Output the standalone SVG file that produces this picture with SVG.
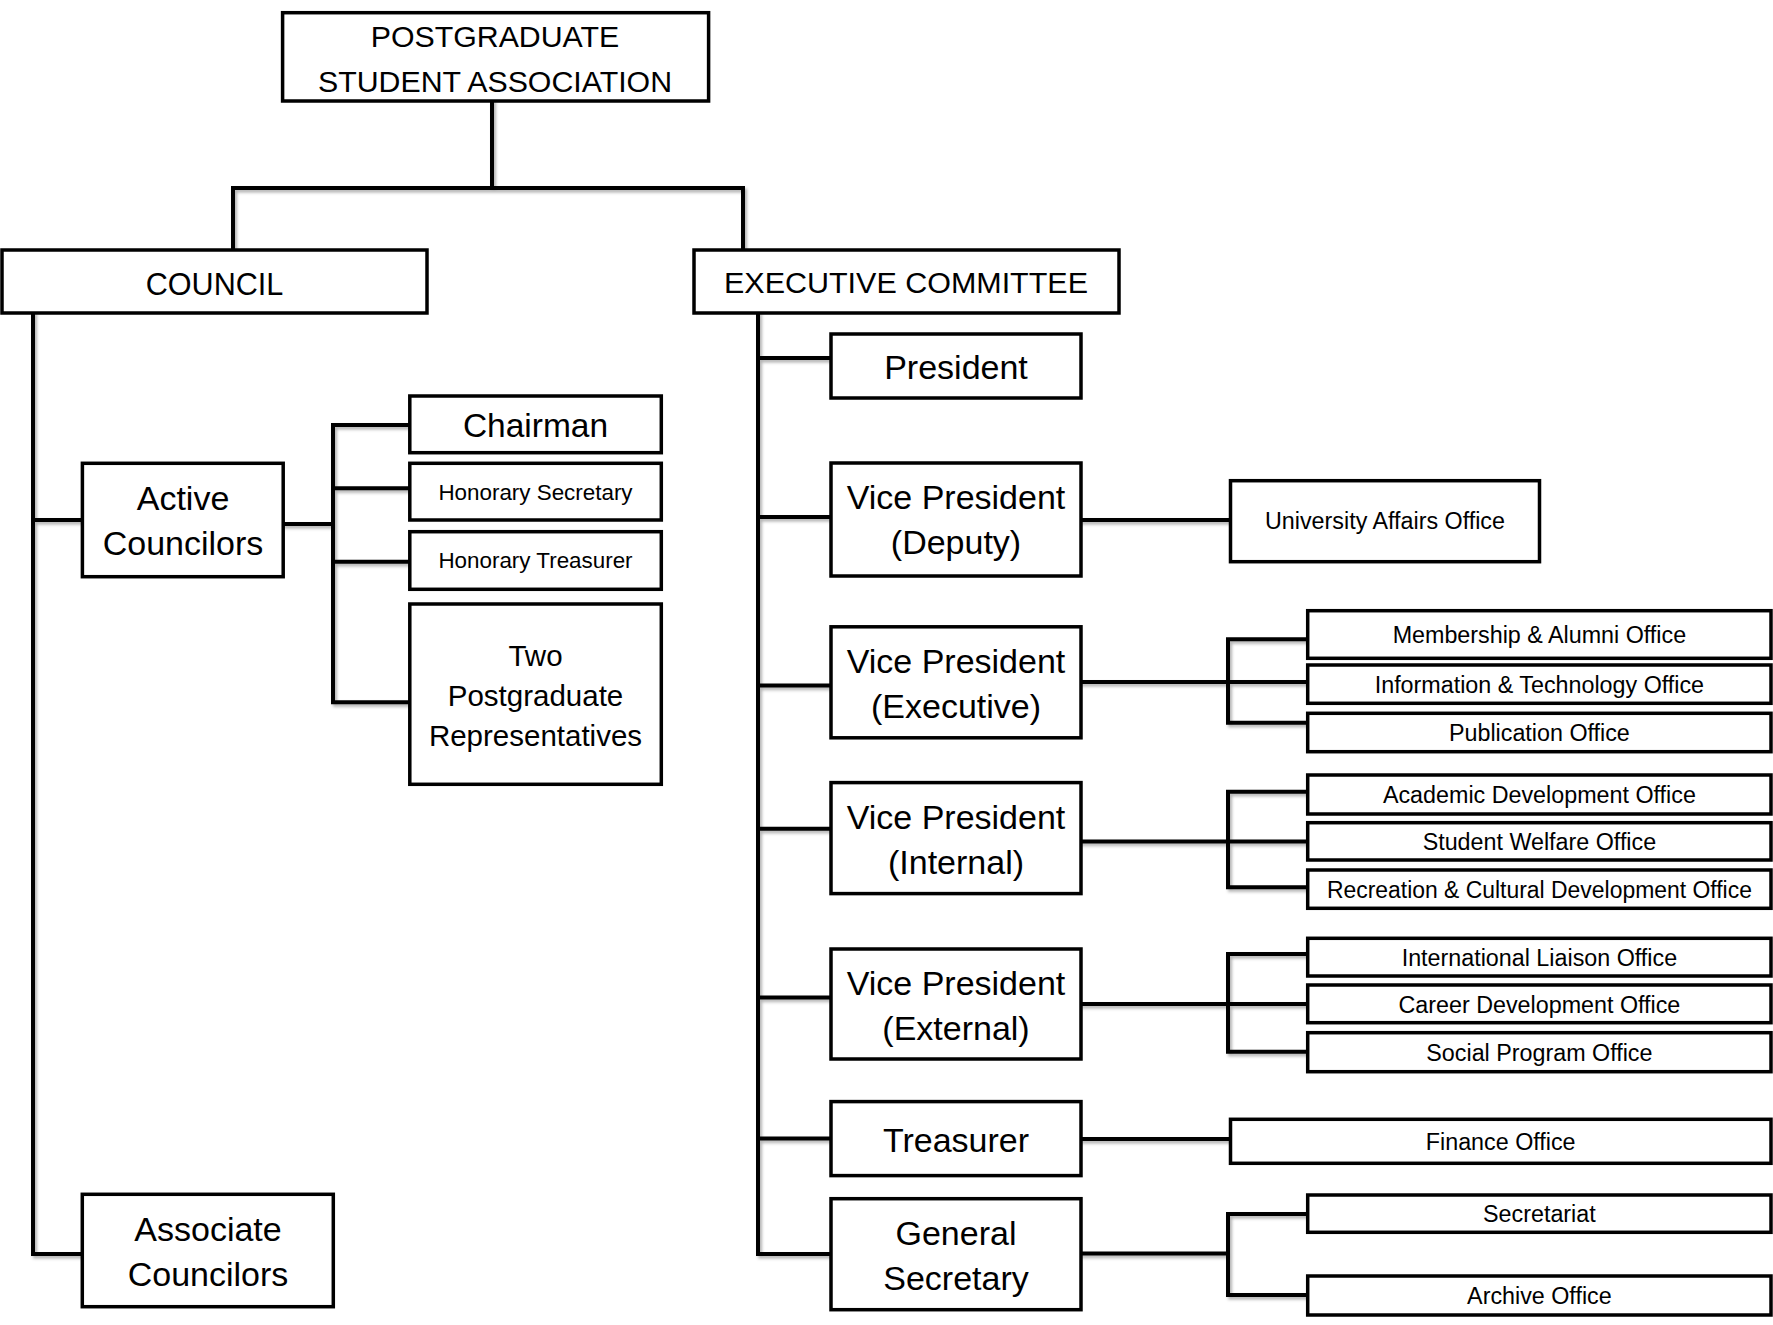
<svg xmlns="http://www.w3.org/2000/svg" width="1773" height="1325" viewBox="0 0 1773 1325">
<style>
.box{fill:#fff;stroke:#000;stroke-width:3.5}
.ln{fill:none;stroke:#000;stroke-width:4;stroke-linejoin:miter;stroke-linecap:square}
text{font-family:"Liberation Sans",Arial,sans-serif;fill:#000;text-anchor:middle}
.h30{font-size:30.3px}
.b34{font-size:34px}
.m29{font-size:29.5px}
.s22{font-size:22.4px}
.o23{font-size:23.3px}
</style>
<defs>
<filter id="sh" x="-5%" y="-5%" width="110%" height="110%">
<feDropShadow dx="2" dy="2.5" stdDeviation="1.5" flood-color="#000" flood-opacity="0.3"/>
</filter>
</defs>
<rect width="1773" height="1325" fill="#fff"/>
<g id="connectors" class="ln" filter="url(#sh)">
<path class="ln" d="M492,101 V188"/>
<path class="ln" d="M233,251 V188 H743 V251"/>
<path class="ln" d="M33,313 V1254 H82"/>
<path class="ln" d="M33,520 H82"/>
<path class="ln" d="M283,524 H333"/>
<path class="ln" d="M410,425 H333 V702.3 H410"/>
<path class="ln" d="M333,488.3 H410"/>
<path class="ln" d="M333,561.7 H410"/>
<path class="ln" d="M758,313 V1254 H831"/>
<path class="ln" d="M758,358 H831"/>
<path class="ln" d="M758,517 H831"/>
<path class="ln" d="M758,685.5 H831"/>
<path class="ln" d="M758,828.8 H831"/>
<path class="ln" d="M758,997.6 H831"/>
<path class="ln" d="M758,1138.6 H831"/>
<path class="ln" d="M1081,520 H1230"/>
<path class="ln" d="M1081,682 H1307"/>
<path class="ln" d="M1307,639.3 H1228 V722.7 H1307"/>
<path class="ln" d="M1081,841.5 H1307"/>
<path class="ln" d="M1307,791.7 H1228 V887.3 H1307"/>
<path class="ln" d="M1081,1004 H1307"/>
<path class="ln" d="M1307,954 H1228 V1051.7 H1307"/>
<path class="ln" d="M1081,1139 H1230"/>
<path class="ln" d="M1081,1253.5 H1228"/>
<path class="ln" d="M1307,1214 H1228 V1295 H1307"/>
</g>
<g id="psa"><rect class="box" x="282.6" y="12.7" width="426" height="88.3"/><text class="h30" x="495" y="46.7">POSTGRADUATE</text><text class="h30" x="495" y="91.7">STUDENT ASSOCIATION</text></g>
<g id="council"><rect class="box" x="2" y="250" width="425" height="63"/><text class="h30" x="214.5" y="295" style="font-size:30.6px">COUNCIL</text></g>
<g id="executive"><rect class="box" x="694" y="250" width="425" height="63"/><text class="h30" x="906" y="293.3" textLength="364" lengthAdjust="spacingAndGlyphs">EXECUTIVE COMMITTEE</text></g>
<g id="active"><rect class="box" x="82.4" y="463.3" width="200.8" height="113.4"/><text class="b34" x="183" y="509.8">Active</text><text class="b34" x="183" y="554.5">Councilors</text></g>
<g id="chairman"><rect class="box" x="409.8" y="396" width="251.5" height="56.7"/><text class="b34" x="535.5" y="437.3" style="font-size:33.5px">Chairman</text></g>
<g id="honsec"><rect class="box" x="409.8" y="463.3" width="251.5" height="56.7"/><text class="s22" x="535.5" y="500">Honorary Secretary</text></g>
<g id="hontreas"><rect class="box" x="409.8" y="531.7" width="251.5" height="57.6"/><text class="s22" x="535.5" y="568.3">Honorary Treasurer</text></g>
<g id="twopg"><rect class="box" x="409.8" y="604" width="251.5" height="180.3"/><text class="m29" x="535.5" y="665.5">Two</text><text class="m29" x="535.5" y="705.5">Postgraduate</text><text class="m29" x="535.5" y="745.5">Representatives</text></g>
<g id="associate"><rect class="box" x="82.3" y="1194.3" width="251" height="112.4"/><text class="b34" x="208" y="1240.7">Associate</text><text class="b34" x="208" y="1286">Councilors</text></g>
<g id="president"><rect class="box" x="831" y="334" width="250" height="64"/><text class="b34" x="956" y="378.8">President</text></g>
<g id="vpdeputy"><rect class="box" x="831" y="463" width="250" height="113"/><text class="b34" x="956" y="509">Vice President</text><text class="b34" x="956" y="553.5">(Deputy)</text></g>
<g id="vpexecutive"><rect class="box" x="831" y="626.8" width="250" height="111"/><text class="b34" x="956" y="673">Vice President</text><text class="b34" x="956" y="717.5">(Executive)</text></g>
<g id="vpinternal"><rect class="box" x="831" y="782.6" width="250" height="111"/><text class="b34" x="956" y="828.5">Vice President</text><text class="b34" x="956" y="873.5">(Internal)</text></g>
<g id="vpexternal"><rect class="box" x="831" y="949" width="250" height="110"/><text class="b34" x="956" y="995">Vice President</text><text class="b34" x="956" y="1039.5">(External)</text></g>
<g id="treasurer"><rect class="box" x="831" y="1101.6" width="250" height="74"/><text class="b34" x="956" y="1151.5">Treasurer</text></g>
<g id="gensec"><rect class="box" x="831" y="1198.7" width="250" height="111"/><text class="b34" x="956" y="1244.5">General</text><text class="b34" x="956" y="1290">Secretary</text></g>
<g id="university"><rect class="box" x="1230.5" y="480.7" width="309" height="81"/><text class="o23" x="1385" y="529">University Affairs Office</text></g>
<g id="membership"><rect class="box" x="1307.7" y="610.7" width="463.3" height="47.6"/><text class="o23" x="1539.4" y="643">Membership &amp; Alumni Office</text></g>
<g id="infotech"><rect class="box" x="1307.7" y="665" width="463.3" height="38.3"/><text class="o23" x="1539.4" y="692.5">Information &amp; Technology Office</text></g>
<g id="publication"><rect class="box" x="1307.7" y="713.3" width="463.3" height="38.4"/><text class="o23" x="1539.4" y="741">Publication Office</text></g>
<g id="academic"><rect class="box" x="1307.7" y="775" width="463.3" height="39"/><text class="o23" x="1539.4" y="803">Academic Development Office</text></g>
<g id="welfare"><rect class="box" x="1307.7" y="822.7" width="463.3" height="37.3"/><text class="o23" x="1539.4" y="850">Student Welfare Office</text></g>
<g id="recreation"><rect class="box" x="1307.7" y="870" width="463.3" height="38.3"/><text class="o23" x="1539.4" y="897.5" textLength="425" lengthAdjust="spacingAndGlyphs">Recreation &amp; Cultural Development Office</text></g>
<g id="international"><rect class="box" x="1307.7" y="938.3" width="463.3" height="37.7"/><text class="o23" x="1539.4" y="965.5">International Liaison Office</text></g>
<g id="career"><rect class="box" x="1307.7" y="985" width="463.3" height="37.7"/><text class="o23" x="1539.4" y="1012.5">Career Development Office</text></g>
<g id="social"><rect class="box" x="1307.7" y="1032.7" width="463.3" height="39"/><text class="o23" x="1539.4" y="1060.5">Social Program Office</text></g>
<g id="finance"><rect class="box" x="1230.5" y="1119.3" width="540.5" height="44"/><text class="o23" x="1500.7" y="1150">Finance Office</text></g>
<g id="secretariat"><rect class="box" x="1307.7" y="1195" width="463.3" height="37.3"/><text class="o23" x="1539.4" y="1222">Secretariat</text></g>
<g id="archive"><rect class="box" x="1307.7" y="1276" width="463.3" height="39"/><text class="o23" x="1539.4" y="1304">Archive Office</text></g>
</svg>
